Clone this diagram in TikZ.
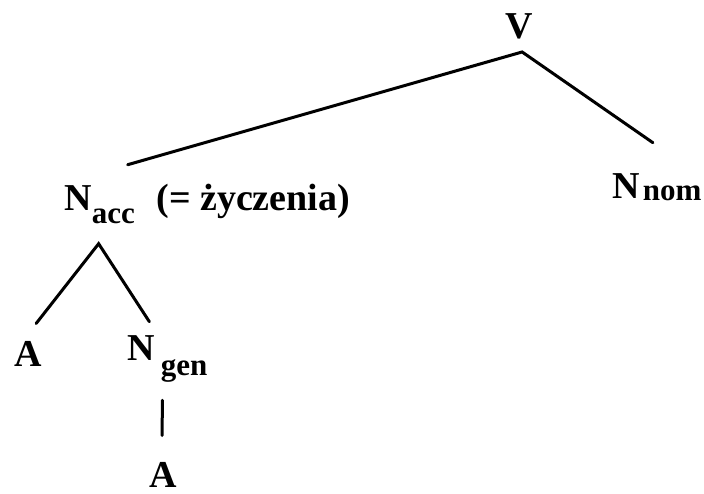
\documentclass[tikz,border=0pt]{standalone}
\usepackage{fontspec}
\setmainfont{Liberation Serif}
\newfontfamily\subfnt{Liberation Serif}
\usepackage{tikz}
\usetikzlibrary{positioning}

\newcommand{\catfont}{\fontsize{19}{23}\selectfont\bfseries}
\newcommand{\lowsub}[3][0pt]{\hspace{#1}\raisebox{-#2}{\subfnt\fontsize{15.5}{18}\selectfont\bfseries #3}}

\begin{document}
\begin{tikzpicture}[x=0.5pt, y=-0.5pt]
\tikzstyle{cat} = [inner sep=0pt, anchor=base west, font=\catfont]
\tikzstyle{branch} = [line width=1.5pt, line cap=round]

\useasboundingbox (0,0) rectangle (704,493);

% Categories
\node (V) [cat] at (505,38) {V};
\node (Nacc) [cat] at (64,210) {N\lowsub{6.5pt}{acc}};
\node (gloss) [cat] at (156,210) {(= życzenia)};
\node (Nnom) [cat] at (612,198) {N\lowsub[1.5pt]{1pt}{nom}};
\node (A1) [cat] at (14,366) {A};
\node (Ngen) [cat] at (127,360) {N\lowsub[3pt]{7.5pt}{gen}};
\node (A2) [cat] at (149,487) {A};

% Branches
\draw [branch] ([shift={(28,-20)}]Nacc.north) -- ([shift={(3,13)}]V.south) -- ([shift={(-4,-30)}]Nnom.north);
\draw [branch] ([shift={(8,-17)}]A1.north) -- ([shift={(-1,20)}]Nacc.south) -- ([shift={(-18,-13)}]Ngen.north);
\draw [branch] ([shift={(-5,18)}]Ngen.south) -- ([shift={(-1,-26)}]A2.north);
\end{tikzpicture}
\end{document}
